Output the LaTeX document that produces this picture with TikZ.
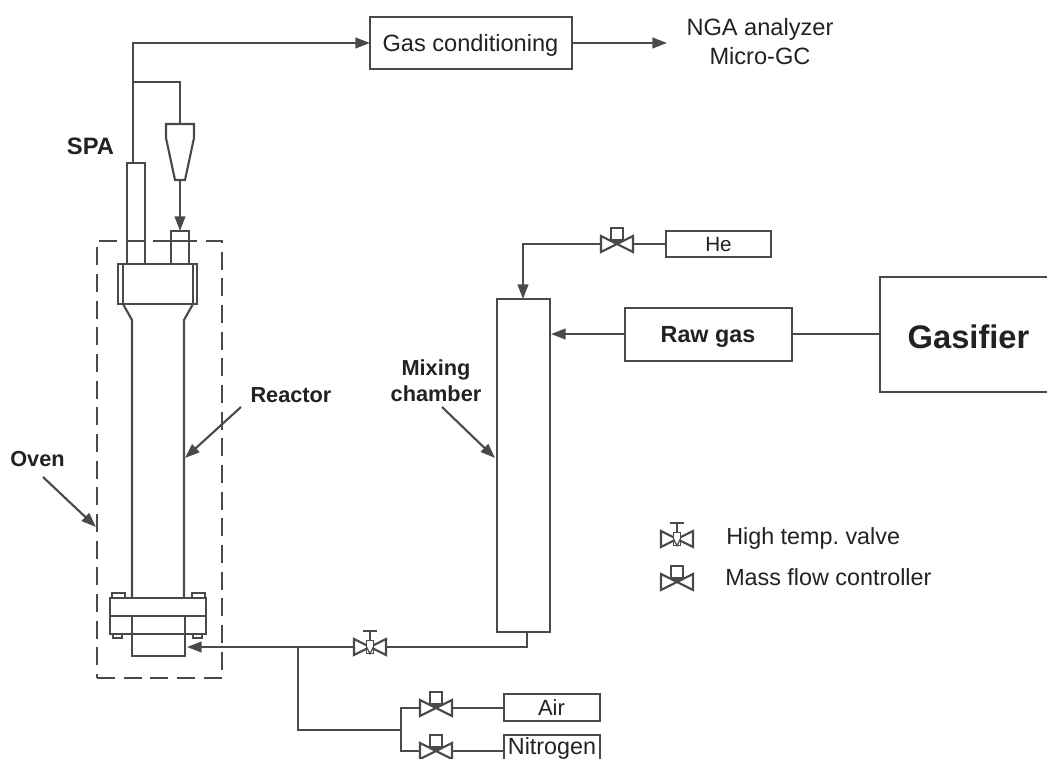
\documentclass[tikz,border=0pt]{standalone}
\usepackage{fontspec}
\setmainfont{Liberation Sans}
\usetikzlibrary{arrows.meta}
\definecolor{ln}{HTML}{4A4A4A}
\definecolor{tx}{HTML}{222222}
\tikzset{
  ln/.style={draw=ln,line width=1.6pt,line join=miter},
  flow/.style={ln,-{Triangle[length=11pt,width=8pt]}},
  box/.style={ln,rectangle,inner sep=0pt,outer sep=0pt,anchor=north west},
  lbl/.style={text=tx,inner sep=0pt,font=\fontsize{17.7}{20}\selectfont},
  blbl/.style={text=tx,inner sep=0pt,font=\fontsize{16.3}{19.5}\selectfont\bfseries,align=center},
  vbody/.style={inner sep=0pt,outer sep=0pt,minimum width=24pt,minimum height=12pt},
}
% mass flow controller: #1 name, #2 position
\newcommand{\mfc}[2]{%
  \node[vbody] (#1) at (#2) {};
  \draw[ln] (#1.south west) -- (#1.north east) -- (#1.south east) -- (#1.north west) -- cycle;
  \node[ln,minimum width=9.5pt,minimum height=9.5pt,inner sep=0pt,outer sep=0pt,anchor=south] (#1box) at ([yshift=-4.5*0.75pt]#1.north) {};
  \draw[ln] (#1.center) -- (#1box.south);
}
% high temperature valve
\newcommand{\htv}[2]{%
  \node[vbody] (#1) at (#2) {};
  \draw[ln] (#1.south west) -- (#1.north east) -- (#1.south east) -- (#1.north west) -- cycle;
  \node[ln,line width=1.2pt,fill=white,minimum width=5pt,minimum height=10pt,inner sep=0pt,outer sep=0pt] (#1body) at (#1.center) {};
  \coordinate (#1top) at ([yshift=16*0.75pt]#1.center);
  \draw[ln] (#1body.north) -- (#1top);
  \draw[ln] ([xshift=-7*0.75pt]#1top) -- ([xshift=7*0.75pt]#1top);
  \draw[ln,line width=0.9pt] (#1body.west) -- (#1body.south) -- (#1body.east);
}
\begin{document}
\frenchspacing
\begin{tikzpicture}[x=0.75pt,y=-0.75pt]
\useasboundingbox (0,0) rectangle (1047,758);
\clip (0,0) rectangle (1047,758);
\fill[white] (0,0) rectangle (1047,758);

% top boxes
\node[box,minimum width=151.5pt,minimum height=39pt] (gas) at (370,17) {};
\node[lbl] at (470.5,45) {Gas conditioning};
\coordinate (ngaend) at (667,43);
\draw[flow] (gas.east) -- (ngaend);
\node[lbl] (nga) at (760,29) {NGA analyzer};
\node[lbl] (micro) at (760,56) {Micro-GC};

% reactor head
\node[box,minimum width=13.5pt,minimum height=75.75pt] (spa) at (127,163) {};
\node[box,minimum width=13.5pt,minimum height=24.75pt] (inlet) at (171,231) {};
\draw[ln] (171,241) -- (189,241);
\node[box,minimum width=59.25pt,minimum height=30pt] (head) at (118,264) {};
\draw[ln] (123,264) -- (123,304) (193,264) -- (193,304);
\draw[ln] (123,304) -- (132,320) -- (132,598);
\draw[ln] (193,304) -- (184,320) -- (184,598);

% cyclone
\draw[ln] (166,124) -- (194,124) -- (194,138) -- (185,180) -- (175,180) -- (166,138) -- cycle;
\coordinate (cyin) at (180,124);
\coordinate (cyout) at (180,180);
\draw[flow] (cyout) -- (cyout |- inlet.north);

% piping from the reactor
\coordinate (spaout) at (133,163);
\coordinate (corner) at (133,43);
\coordinate (tee) at (133,82);
\draw[flow] (spaout) -- (corner) -- (gas.west);
\draw[ln] (tee) -- (180,82) -- (cyin);

% flange and bottom
\node[box,minimum width=72pt,minimum height=27pt] (flange) at (110,598) {};
\draw[ln] (flange.west) -- (flange.east);
\node[box,minimum width=39.75pt,minimum height=30pt] (bottom) at (132,616) {};
\foreach \x/\y/\w/\h in {112/593/13/5,192/593/13/5,113/634/9/4,193/634/9/4}
  \draw[ln,line width=1pt] (\x,\y) rectangle ++(\w,\h);

% oven
\node[box,dash pattern=on 13.5pt off 6.5pt,minimum width=93.75pt,minimum height=327.75pt] (oven) at (97,241) {};

% mixing chamber
\node[box,minimum width=39.75pt,minimum height=249.75pt] (mix) at (497,299) {};

% He line
\mfc{vhe}{617,244}
\node[box,minimum width=78.75pt,minimum height=19.5pt] (he) at (666,231) {};
\node[lbl,font=\fontsize{15.5}{15.5}\selectfont] at (he.center) {He};
\draw[ln] (he.west |- vhe.east) -- (vhe.east);
\draw[flow] (vhe.west) -- (523,244) -- (523,299);

% raw gas, gasifier
\node[box,minimum width=125.25pt,minimum height=39.75pt] (raw) at (625,308) {};
\node[blbl,font=\fontsize{17.5}{17.5}\selectfont\bfseries] at (708,337) {Raw gas};
\node[rectangle,inner sep=0pt,outer sep=0pt,anchor=north west,minimum width=125.25pt,minimum height=86.25pt] (gasifier) at (880,277) {};
\draw[ln] (gasifier.north east) -- (gasifier.north west) -- (gasifier.south west) -- (gasifier.south east);
\node[text=tx,inner sep=0pt,font=\fontsize{24.5}{24.5}\selectfont\bfseries] at (968.5,337) {Gasifier};
\coordinate (rawmid) at (625,334);
\draw[ln] (gasifier.west |- rawmid) -- (raw.east |- rawmid);
\draw[flow] (rawmid) -- (551,334);

% reactor feed
\htv{vhot}{370,647}
\coordinate (feedend) at (187,647);
\coordinate (branch) at (298,647);
\coordinate (mixout) at (527,632);
\coordinate (mixlow) at (527,647);
\draw[ln] (mixout) -- (mixlow) -- (vhot.east);
\draw[flow] (vhot.west) -- (feedend);

% air and nitrogen
\mfc{vair}{436,708}
\mfc{vnit}{436,751}
\node[box,minimum width=72pt,minimum height=20.25pt] (air) at (504,694) {};
\node[lbl,font=\fontsize{16.5}{16.5}\selectfont] at (551.5,707.5) {Air};
\node[box,minimum width=72pt,minimum height=30pt] (nit) at (504,735) {};
\node[lbl,font=\fontsize{17.5}{17.5}\selectfont,anchor=base] at (552,754) {Nitrogen};
\draw[ln] (air.west |- vair) -- (vair.east);
\draw[ln] (nit.west |- vnit) -- (vnit.east);
\coordinate (split) at (401,730);
\draw[ln] (branch) -- (298,730) -- (split);
\draw[ln] (vair.west) -- (401,708) -- (401,751) -- (vnit.west);

% legend
\htv{lhot}{677,539}
\mfc{lmfc}{677,582}
\node[lbl,anchor=west,font=\fontsize{17.5}{17.5}\selectfont] (lt1) at (726,538) {High temp. valve};
\node[lbl,anchor=west,font=\fontsize{17.5}{17.5}\selectfont] (lt2) at (725,577) {Mass flow controller};

% labels and pointers
\node[blbl,font=\fontsize{17.8}{17.8}\selectfont\bfseries] (lspa) at (90.5,146) {SPA};
\node[blbl] (lreactor) at (291,395) {Reactor};
\node[blbl] (loven) at (37.5,459) {Oven};
\node[blbl] (lmix) at (436,381) {Mixing\\chamber};
\coordinate (preactor) at (185,458);
\coordinate (poven) at (96,527);
\coordinate (pmix) at (495,458);
\coordinate (sreactor) at (241,407);
\coordinate (soven) at (43,477);
\coordinate (smix) at (442,407);
\draw[flow] (sreactor) -- (preactor);
\draw[flow] (soven) -- (poven);
\draw[flow] (smix) -- (pmix);
\end{tikzpicture}
\end{document}
